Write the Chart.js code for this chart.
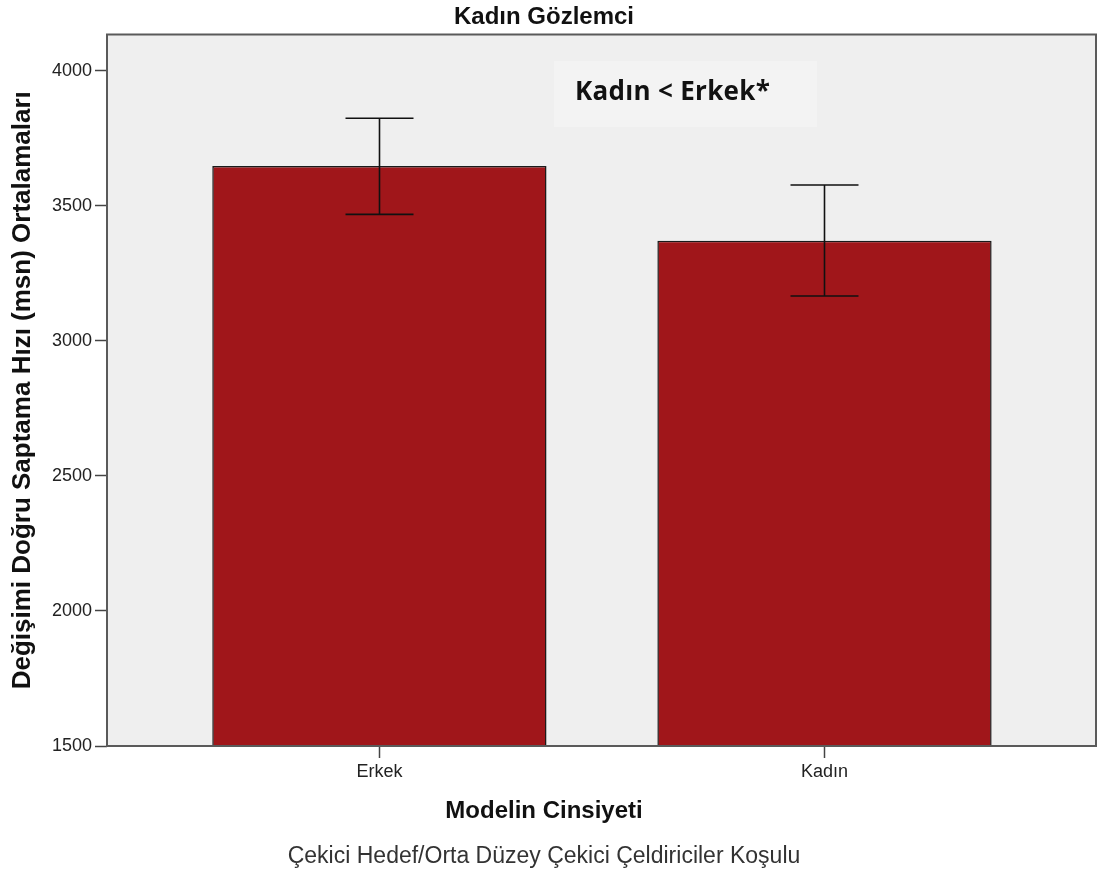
<!DOCTYPE html>
<html>
<head>
<meta charset="utf-8">
<script src="https://cdn.jsdelivr.net/npm/chart.js@4.4.1/dist/chart.umd.min.js"></script>
<style>
  html, body { margin: 0; padding: 0; background: #ffffff; }
  canvas { display: block; }
</style>
</head>
<body>
<canvas id="chart" width="1101" height="879"></canvas>
<script>
// Group means of correct change-detection speed (ms) with 95% CI bounds
const categories = ['Erkek', 'Kadın'];
const categoryPositions = [1, 2];
const means = [3647, 3370];
const ciLower = [3468, 3166];
const ciUpper = [3824, 3577];
const yTickValues = [1500, 2000, 2500, 3000, 3500, 4000];

const chartTitle = 'Kadın Gözlemci';
const xAxisTitle = 'Modelin Cinsiyeti';
const yAxisTitle = 'Değişimi Doğru Saptama Hızı (msn) Ortalamaları';
const footnote = 'Çekici Hedef/Orta Düzey Çekici Çeldiriciler Koşulu';
const comparisonNote = 'Kadın < Erkek*';

const SANS = '"Liberation Sans", Arial, sans-serif';
const TEXT_CENTER_X = 544;

// Plot panel background, frame, error bars and captions
const panelPlugin = {
  id: 'panel',
  beforeDatasetsDraw(chart) {
    const { ctx, chartArea: a } = chart;
    ctx.save();
    ctx.fillStyle = '#efefef';
    ctx.fillRect(a.left, a.top, a.right - a.left, a.bottom - a.top);
    // comparison note box
    ctx.fillStyle = '#f3f3f3';
    ctx.fillRect(554, 61, 263, 66);
    ctx.fillStyle = '#111111';
    ctx.font = 'bold 26px "Open Sans", Lato, sans-serif';
    ctx.letterSpacing = '0.3px';
    ctx.textAlign = 'left';
    ctx.textBaseline = 'alphabetic';
    ctx.fillText(comparisonNote, 575, 100);
    ctx.restore();
  },
  afterDatasetsDraw(chart) {
    const { ctx, chartArea: a, scales } = chart;
    const xs = scales.x, ys = scales.y;
    ctx.save();
    // error bars
    ctx.strokeStyle = '#111111';
    ctx.lineWidth = 1.6;
    const capHalf = 34;
    categoryPositions.forEach((pos, i) => {
      const cx = Math.round(xs.getPixelForValue(pos)) + 0.5;
      const yTop = ys.getPixelForValue(ciUpper[i]);
      const yBot = ys.getPixelForValue(ciLower[i]);
      ctx.beginPath();
      ctx.moveTo(cx, yTop);
      ctx.lineTo(cx, yBot);
      ctx.moveTo(cx - capHalf, yTop);
      ctx.lineTo(cx + capHalf, yTop);
      ctx.moveTo(cx - capHalf, yBot);
      ctx.lineTo(cx + capHalf, yBot);
      ctx.stroke();
    });
    // panel frame
    ctx.strokeStyle = '#5a5a5a';
    ctx.lineWidth = 2;
    ctx.strokeRect(a.left, a.top, a.right - a.left, a.bottom - a.top);
    ctx.restore();
  },
  afterDraw(chart) {
    const { ctx, chartArea: a } = chart;
    ctx.save();
    ctx.fillStyle = '#111111';
    ctx.textAlign = 'center';
    ctx.textBaseline = 'middle';
    ctx.font = 'bold 24px ' + SANS;
    ctx.fillText(chartTitle, TEXT_CENTER_X, a.top - 17);
    ctx.font = 'bold 24px ' + SANS;
    ctx.fillText(xAxisTitle, TEXT_CENTER_X, a.bottom + 65);
    ctx.fillStyle = '#333333';
    ctx.font = '23px ' + SANS;
    ctx.fillText(footnote, TEXT_CENTER_X, a.bottom + 111);
    ctx.restore();
  }
};

new Chart(document.getElementById('chart'), {
  type: 'bar',
  data: {
    datasets: [{
      data: categoryPositions.map((x, i) => ({ x: x, y: means[i] })),
      backgroundColor: '#a0161a',
      borderColor: '#1a1a1a',
      borderWidth: 1.5,
      categoryPercentage: 1,
      barPercentage: 0.751
    }]
  },
  plugins: [panelPlugin],
  options: {
    responsive: false,
    animation: false,
    layout: { padding: { top: 34.5, right: 5, left: 0, bottom: 0 } },
    plugins: {
      legend: { display: false },
      tooltip: { enabled: false }
    },
    scales: {
      x: {
        type: 'linear',
        offset: false,
        min: 0.388,
        max: 2.61,
        afterBuildTicks(scale) {
          scale.ticks = categoryPositions.map(v => ({ value: v }));
        },
        afterFit(scale) { scale.height = 133; },
        grid: {
          offset: false,
          drawOnChartArea: false,
          drawTicks: true,
          tickLength: 12,
          tickWidth: 1.5,
          tickColor: '#444444'
        },
        border: { display: false },
        ticks: {
          padding: 3,
          color: '#222222',
          font: { family: SANS, size: 18 },
          maxRotation: 0,
          callback(value) {
            const idx = categoryPositions.indexOf(value);
            return idx >= 0 ? categories[idx] : '';
          }
        }
      },
      y: {
        min: 1500,
        max: 4134,
        afterBuildTicks(scale) {
          scale.ticks = yTickValues.map(v => ({ value: v }));
        },
        afterFit(scale) { scale.width = 107; },
        grid: {
          drawOnChartArea: false,
          drawTicks: true,
          tickLength: 12,
          tickWidth: 1.5,
          tickColor: '#444444'
        },
        border: { display: false },
        ticks: {
          padding: 3,
          color: '#222222',
          font: { family: SANS, size: 18 },
          callback(value) { return String(value); }
        },
        title: {
          display: true,
          text: yAxisTitle,
          color: '#111111',
          font: { family: SANS, size: 26, weight: 'bold' },
          padding: { top: 7, bottom: 0 }
        }
      }
    }
  }
});
</script>
</body>
</html>
